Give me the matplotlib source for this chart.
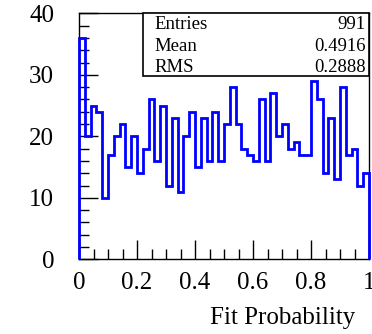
import matplotlib
matplotlib.use("Agg")
import matplotlib.pyplot as plt
from matplotlib.ticker import MultipleLocator
from matplotlib.patches import Rectangle

# histogram contents, 50 bins between 0 and 1
bin_lo = 0.0
bin_hi = 1.0
counts = [36, 20, 25, 24, 10, 17, 20, 22, 15, 20,
          14, 18, 26, 16, 25, 12, 23, 11, 20, 24,
          15, 23, 16, 24, 16, 22, 28, 22, 18, 17,
          16, 26, 16, 27, 20, 22, 18, 19, 17, 17,
          29, 26, 14, 23, 13, 28, 17, 18, 12, 14]
stat_names = ["Entries", "Mean", "RMS"]
stat_values = ["991", "0.4916", "0.2888"]
x_ticks = [0, 0.2, 0.4, 0.6, 0.8, 1]
x_ticklabels = ["0", "0.2", "0.4", "0.6", "0.8", "1"]
y_ticks = [0, 10, 20, 30, 40]
x_title = "Fit Probability"

plt.rcParams['font.family'] = ['Liberation Serif', 'DejaVu Serif']

fig = plt.figure(figsize=(3.72, 3.34), dpi=100)
ax = fig.add_axes([0.2124, 0.2237, 0.992 - 0.2124, 0.960 - 0.2237])

nb = len(counts)
edges = [bin_lo + (bin_hi - bin_lo) * i / nb for i in range(nb + 1)]
ax.stairs(counts, edges, baseline=0, color='#0000ff', lw=2, clip_on=False, zorder=3)

ax.set_xlim(bin_lo, bin_hi)
ax.set_ylim(0, 40)
ax.set_xticks(x_ticks)
ax.set_xticklabels(x_ticklabels)
ax.set_yticks(y_ticks)
ax.xaxis.set_minor_locator(MultipleLocator(0.05))
ax.yaxis.set_minor_locator(MultipleLocator(2))
ax.tick_params(which='both', direction='in', top=False, right=False,
               labelsize=18, width=1)
ax.tick_params(which='major', length=14)
ax.tick_params(which='minor', length=7)
ax.tick_params(axis='x', pad=9)
ax.tick_params(axis='y', pad=18)
for s in ax.spines.values():
    s.set_linewidth(1)

# stats box (ROOT style)
ax.add_patch(Rectangle((0.2197, 0.745), 1 - 0.2197, 0.255, transform=ax.transAxes,
                       fill=True, facecolor='white', edgecolor='black', lw=1.2,
                       clip_on=False, zorder=4))
rows_y = [0.9565, 0.867, 0.781]
for name, val, yy in zip(stat_names, stat_values, rows_y):
    ax.text(0.26, yy, name, transform=ax.transAxes, ha='left', va='center',
            fontsize=13.5, zorder=5)
    ax.text(0.9885, yy, val, transform=ax.transAxes, ha='right', va='center',
            fontsize=13.5, zorder=5)

fig.text(355 / 372, 1 - 318 / 334, x_title, ha='right', va='center', fontsize=18)

fig.savefig("out.png", dpi=100)
